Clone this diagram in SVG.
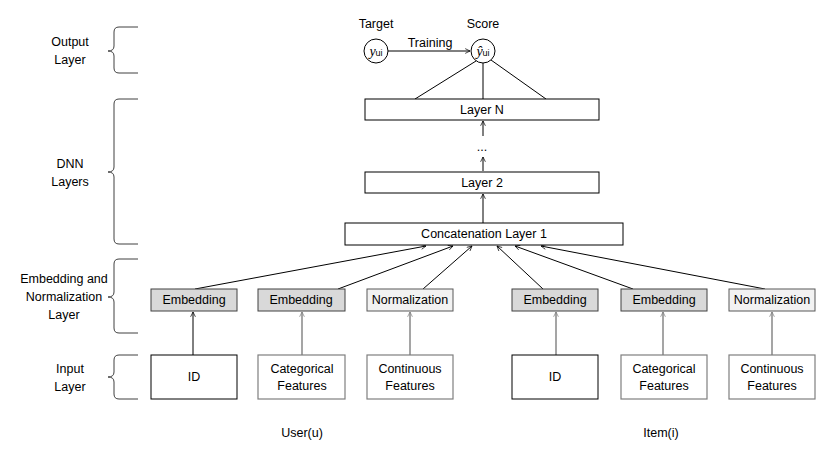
<svg xmlns="http://www.w3.org/2000/svg" width="830" height="458" viewBox="0 0 830 458">
<defs>
<marker id="ah" viewBox="0 0 10 10" refX="9" refY="5" markerWidth="6" markerHeight="6" orient="auto" markerUnits="userSpaceOnUse">
<path d="M1,1 L9,5 L1,9" fill="none" stroke="#000" stroke-width="1.2"/>
</marker>
<marker id="ahg" viewBox="0 0 10 10" refX="9" refY="5" markerWidth="6" markerHeight="6" orient="auto" markerUnits="userSpaceOnUse">
<path d="M1,1 L9,5 L1,9" fill="none" stroke="#7f7f7f" stroke-width="1.2"/>
</marker>
</defs>
<style>
text{font-family:"Liberation Sans",Arial,sans-serif;font-size:12.5px;fill:#000;text-anchor:middle}
.box{fill:#fff;stroke:#000;stroke-width:1}
.gbox{fill:#fff;stroke:#7f7f7f;stroke-width:1.2}
.emb{fill:#d9d9d9;stroke:#404040;stroke-width:1}
.norm{fill:#f2f2f2;stroke:#595959;stroke-width:1}
.ln{stroke:#000;stroke-width:1;fill:none}
.lg{stroke:#7f7f7f;stroke-width:1.4;fill:none}
.br{stroke:#404040;stroke-width:1;fill:none}
.m{font-family:"Liberation Serif","DejaVu Serif",serif;font-style:italic;font-size:14px}
.sub{font-family:"Liberation Sans",Arial,sans-serif;font-style:normal;font-size:9px}
</style>
<rect width="830" height="458" fill="#fff"/>

<g id="braces">
<path class="br" d="M138,27 H119 Q114,27 114,32 V46 Q114,51 108,51 Q114,51 114,56 V68 Q114,73 119,73 H138"/>
<path class="br" d="M138,99 H119 Q114,99 114,104 V167 Q114,172 108,172 Q114,172 114,177 V239 Q114,244 119,244 H138"/>
<path class="br" d="M138,259 H119 Q114,259 114,264 V292 Q114,297 108,297 Q114,297 114,302 V328 Q114,333 119,333 H138"/>
<path class="br" d="M138,355 H119 Q114,355 114,360 V372 Q114,377 108,377 Q114,377 114,382 V394 Q114,399 119,399 H138"/>
</g>
<g id="layer-labels">
<text x="70" y="46">Output</text>
<text x="70" y="64">Layer</text>
<text x="70" y="168">DNN</text>
<text x="70" y="186">Layers</text>
<text x="64" y="283">Embedding and</text>
<text x="64" y="301">Normalization</text>
<text x="64" y="319">Layer</text>
<text x="70" y="373">Input</text>
<text x="70" y="391">Layer</text>
</g>

<g id="connectors">
<line class="ln" x1="388" y1="51" x2="470" y2="51" marker-end="url(#ah)"/>
<line class="ln" x1="476" y1="61" x2="415" y2="99"/>
<line class="ln" x1="483" y1="63" x2="483" y2="99"/>
<line class="ln" x1="491" y1="60" x2="546" y2="99"/>
<line class="ln" x1="483" y1="136" x2="483" y2="121" marker-end="url(#ah)"/>
<line class="ln" x1="483" y1="171" x2="483" y2="157" marker-end="url(#ah)"/>
<line class="ln" x1="483" y1="223" x2="483" y2="194" marker-end="url(#ah)"/>
<line class="ln" x1="195" y1="289" x2="426" y2="246" marker-end="url(#ah)"/>
<line class="ln" x1="338" y1="289" x2="453" y2="246" marker-end="url(#ah)"/>
<line class="ln" x1="423" y1="289" x2="472" y2="246" marker-end="url(#ah)"/>
<line class="ln" x1="543" y1="289" x2="497" y2="246" marker-end="url(#ah)"/>
<line class="ln" x1="633" y1="289" x2="515" y2="246" marker-end="url(#ah)"/>
<line class="ln" x1="765" y1="289" x2="541" y2="246" marker-end="url(#ah)"/>
<line class="ln" x1="193" y1="355" x2="193" y2="312" marker-end="url(#ah)"/>
<line class="lg" x1="302" y1="355" x2="302" y2="312" marker-end="url(#ahg)"/>
<line class="lg" x1="410" y1="355" x2="410" y2="312" marker-end="url(#ahg)"/>
<line class="lg" x1="556" y1="355" x2="556" y2="312" marker-end="url(#ahg)"/>
<line class="lg" x1="663" y1="355" x2="663" y2="312" marker-end="url(#ahg)"/>
<line class="lg" x1="772" y1="355" x2="772" y2="312" marker-end="url(#ahg)"/>
</g>

<g id="target">
<circle cx="376" cy="51" r="12" class="box"/>
<text x="376" y="56"><tspan class="m">y</tspan><tspan class="sub">ui</tspan></text>
<text x="376" y="28">Target</text>
</g>
<g id="score">
<circle cx="483" cy="51" r="12" class="box"/>
<text x="483" y="56"><tspan class="m">ŷ</tspan><tspan class="sub">ui</tspan></text>
<text x="483" y="28">Score</text>
</g>
<text id="training-label" x="430" y="47">Training</text>

<g id="layerN"><rect class="box" x="365" y="99" width="234" height="21"/><text x="482" y="114">Layer N</text></g>
<g id="dots"><text x="482" y="151">...</text></g>
<g id="layer2"><rect class="box" x="365" y="172" width="234" height="21"/><text x="482" y="187">Layer 2</text></g>
<g id="concat"><rect class="box" x="345" y="223" width="278" height="22"/><text x="484" y="238">Concatenation Layer 1</text></g>

<g id="u-emb1"><rect class="emb" x="151" y="289" width="86" height="22"/><text x="194" y="304">Embedding</text></g>
<g id="u-emb2"><rect class="emb" x="258" y="289" width="87" height="22"/><text x="301" y="304">Embedding</text></g>
<g id="u-norm"><rect class="norm" x="367" y="289" width="86" height="22"/><text x="410" y="304">Normalization</text></g>
<g id="i-emb1"><rect class="emb" x="512" y="289" width="86" height="22"/><text x="555" y="304">Embedding</text></g>
<g id="i-emb2"><rect class="emb" x="621" y="289" width="86" height="22"/><text x="664" y="304">Embedding</text></g>
<g id="i-norm"><rect class="norm" x="729" y="289" width="86" height="22"/><text x="772" y="304">Normalization</text></g>

<g id="u-id"><rect class="box" x="151" y="355" width="86" height="44"/><text x="194" y="381">ID</text></g>
<g id="u-cat"><rect class="gbox" x="258" y="355" width="87" height="44"/><text x="302" y="373">Categorical</text><text x="302" y="390">Features</text></g>
<g id="u-cont"><rect class="gbox" x="367" y="355" width="86" height="44"/><text x="410" y="373">Continuous</text><text x="410" y="390">Features</text></g>
<g id="i-id"><rect class="box" x="512" y="355" width="86" height="44"/><text x="555" y="381">ID</text></g>
<g id="i-cat"><rect class="gbox" x="621" y="355" width="86" height="44"/><text x="664" y="373">Categorical</text><text x="664" y="390">Features</text></g>
<g id="i-cont"><rect class="gbox" x="729" y="355" width="86" height="44"/><text x="772" y="373">Continuous</text><text x="772" y="390">Features</text></g>

<text id="user-label" x="302" y="437">User(u)</text>
<text id="item-label" x="661" y="437">Item(i)</text>
</svg>
